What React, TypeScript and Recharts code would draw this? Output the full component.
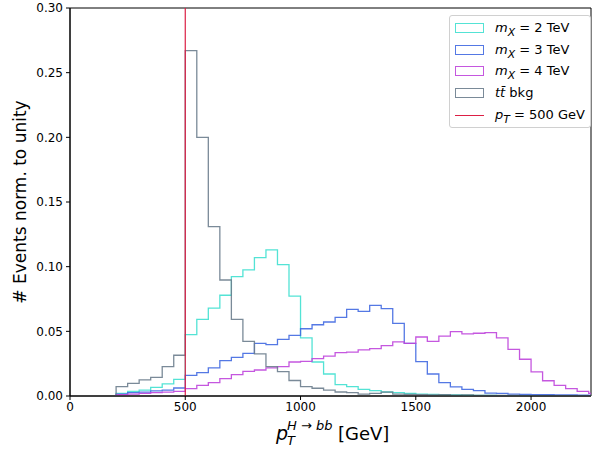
import { LineChart, Line, XAxis, YAxis, ReferenceLine, ReferenceArea } from 'recharts';

const BIN_EDGES = [
  200, 250, 300, 350, 400, 450, 500, 550, 600, 650, 700, 750, 800, 850, 900, 950, 1000, 1050, 1100, 1150, 1200,
  1250, 1300, 1350, 1400, 1450, 1500, 1550, 1600, 1650, 1700, 1750, 1800, 1850, 1900, 1950, 2000, 2050, 2100,
  2150, 2200, 2250, 2300,
];

const MX2 = [
  0.002, 0.0036, 0.0046, 0.0067, 0.0093, 0.0129, 0.0474, 0.0593, 0.068, 0.0779, 0.0923, 0.0975, 0.107, 0.113,
  0.1016, 0.0773, 0.0449, 0.0263, 0.017, 0.0088, 0.0072, 0.0052, 0.0041, 0.0031, 0.0026, 0.002, 0.0015, 0.0012,
  0.001, 0.0008, 0.0006, 0.0005, 0.0004, 0.0003, 0.0003, 0.0002, 0.0002, 0.0001, 0.0001, 0.0001, 0.0001, 0.0001,
];

const MX3 = [
  0.0015, 0.0026, 0.003, 0.004, 0.0046, 0.0062, 0.016, 0.018, 0.0217, 0.0273, 0.0299, 0.033, 0.0407, 0.0397,
  0.0438, 0.0469, 0.052, 0.0551, 0.0572, 0.0608, 0.067, 0.0655, 0.0701, 0.0675, 0.0562, 0.0407, 0.0266, 0.017,
  0.0103, 0.007, 0.0052, 0.0041, 0.0022, 0.002, 0.0015, 0.0012, 0.001, 0.001, 0.0008, 0.0008, 0.0006, 0.0005,
];

const MX4 = [
  0.001, 0.0015, 0.002, 0.0026, 0.003, 0.0036, 0.0057, 0.0082, 0.0103, 0.0134, 0.0165, 0.0191, 0.0201, 0.0217,
  0.0227, 0.0263, 0.0268, 0.0289, 0.0309, 0.0335, 0.034, 0.0356, 0.0366, 0.039, 0.0418, 0.0407, 0.0456, 0.0423,
  0.0463, 0.0498, 0.048, 0.0485, 0.049, 0.0449, 0.0361, 0.0284, 0.0186, 0.0118, 0.0082, 0.0057, 0.0036, 0.002,
];

const TTBAR = [
  0.0072, 0.0098, 0.0124, 0.0144, 0.0227, 0.0315, 0.267, 0.2, 0.131, 0.0897, 0.0593, 0.0423, 0.0325, 0.0227,
  0.0188, 0.012, 0.0072, 0.006, 0.0046, 0.0031, 0.0026, 0.0015, 0.002, 0.003, 0.0015, 0.0012, 0.001, 0.0008,
  0.001, 0.0006, 0.0008, 0.0005, 0.0005, 0.0004, 0.0004, 0.0003, 0.0003, 0.0002, 0.0002, 0.0002, 0.0001, 0.0001,
];

const X_TICKS = [0, 500, 1000, 1500, 2000];
const Y_TICKS = [0, 0.05, 0.1, 0.15, 0.2, 0.25, 0.3];
const PT_CUT = 500;

const COLORS = { mx2: '#40e0d0', mx3: '#4169e1', mx4: '#bf45dc', tt: '#6c7d8d', cut: '#dc1f45' };
const FONT = '"DejaVu Sans", sans-serif';

// step outline: rise from 0 at the first edge, drop back to 0 at the last
const data = [
  { x: BIN_EDGES[0], mx2: 0, mx3: 0, mx4: 0, tt: 0 },
  ...MX2.map((_, i) => ({ x: BIN_EDGES[i], mx2: MX2[i], mx3: MX3[i], mx4: MX4[i], tt: TTBAR[i] })),
  { x: BIN_EDGES[BIN_EDGES.length - 1], mx2: 0, mx3: 0, mx4: 0, tt: 0 },
];

const SERIES = [
  { key: 'mx2', color: COLORS.mx2 },
  { key: 'mx3', color: COLORS.mx3 },
  { key: 'mx4', color: COLORS.mx4 },
  { key: 'tt', color: COLORS.tt },
];

function XLabel() {
  return (
    <text fontFamily={FONT} fill='#000'>
      <tspan x={276} y={440} fontSize={19} fontStyle='italic'>p</tspan>
      <tspan x={287} y={445} fontSize={13} fontStyle='italic'>T</tspan>
      <tspan x={287} y={430} fontSize={13} fontStyle='italic'>H</tspan>
      <tspan fontSize={13}> → </tspan>
      <tspan fontSize={13} fontStyle='italic'>bb</tspan>
      <tspan x={338} y={440} fontSize={18}>[GeV]</tspan>
    </text>
  );
}

function YLabel() {
  return (
    <text x={26} y={202} transform='rotate(-90 26 202)' textAnchor='middle' fontFamily={FONT} fontSize={17} fill='#000'>
      # Events norm. to unity
    </text>
  );
}

const legendRows = [
  { color: COLORS.mx2, patch: true, label: <><i>m</i><sub><i>X</i></sub> = 2 TeV</> },
  { color: COLORS.mx3, patch: true, label: <><i>m</i><sub><i>X</i></sub> = 3 TeV</> },
  { color: COLORS.mx4, patch: true, label: <><i>m</i><sub><i>X</i></sub> = 4 TeV</> },
  { color: COLORS.tt, patch: true, label: <><i>t</i><i>t&#772;</i> bkg</> },
  { color: COLORS.cut, patch: false, label: <><i>p</i><sub><i>T</i></sub> = 500 GeV</> },
];

export default function App() {
  return (
    <div style={{ position: 'absolute', left: 0, top: 0, width: 592, height: 451, background: '#fff' }}>
      <LineChart width={592} height={451} data={data} margin={{ top: 8, right: 1, left: 0, bottom: 0 }}>
        <XAxis
          dataKey='x'
          type='number'
          domain={[0, 2260]}
          ticks={X_TICKS}
          allowDataOverflow
          height={55}
          stroke='#000'
          tickSize={4}
          tickMargin={2}
          tick={{ fill: '#000', fontSize: 12, fontFamily: FONT }}
          label={{ content: () => <XLabel /> }}
        />
        <YAxis
          type='number'
          domain={[0, 0.3]}
          ticks={Y_TICKS}
          allowDataOverflow
          width={70}
          stroke='#000'
          tickSize={4}
          tickMargin={3}
          tickFormatter={(v: number) => v.toFixed(2)}
          tick={{ fill: '#000', fontSize: 12, fontFamily: FONT }}
          label={{ content: () => <YLabel /> }}
        />
        <ReferenceArea x1={0} x2={2260} y1={0} y2={0.3} fill='none' stroke='#000' strokeWidth={1} ifOverflow='visible' />
        {SERIES.map((s) => (
          <Line
            key={s.key}
            dataKey={s.key}
            type='stepAfter'
            stroke={s.color}
            strokeWidth={1.3}
            strokeOpacity={0.9}
            dot={false}
            activeDot={false}
            isAnimationActive={false}
          />
        ))}
        <ReferenceLine x={PT_CUT} stroke={COLORS.cut} strokeWidth={1.2} />
      </LineChart>
      <div
        style={{
          position: 'absolute',
          left: 449,
          top: 15,
          width: 140,
          height: 111,
          border: '1px solid #d0d0d0',
          borderRadius: 3,
          background: 'rgba(255,255,255,0.8)',
          fontFamily: FONT,
          fontSize: 13,
          color: '#000',
        }}
      >
        {legendRows.map((r, i) => (
          <div key={i} style={{ position: 'absolute', left: 0, top: 3 + i * 21.7, height: 20, width: 140 }}>
            {r.patch ? (
              <div
                style={{
                  position: 'absolute',
                  left: 5,
                  top: 4,
                  width: 27,
                  height: 8,
                  border: `1.3px solid ${r.color}`,
                  opacity: 0.9,
                }}
              />
            ) : (
              <div style={{ position: 'absolute', left: 5, top: 9, width: 29, height: 1.3, background: r.color }} />
            )}
            <div style={{ position: 'absolute', left: 45, top: 0, lineHeight: '18px', whiteSpace: 'nowrap' }}>
              {r.label}
            </div>
          </div>
        ))}
      </div>
    </div>
  );
}
